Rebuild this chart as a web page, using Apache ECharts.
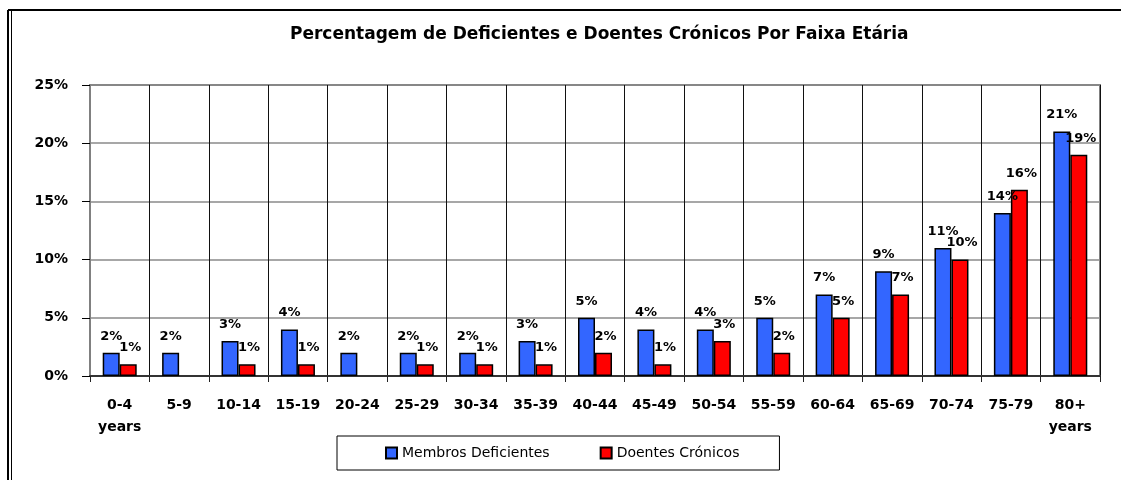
<!DOCTYPE html>
<html>
<head>
<meta charset="utf-8">
<script src="https://cdn.jsdelivr.net/npm/echarts@6/dist/echarts.min.js"></script>
<style>
html, body { margin: 0; padding: 0; background: #fff; }
#chart { width: 1121px; height: 480px; }
</style>
</head>
<body>
<div id="chart"></div>
<script>
var categories = ['0-4\nyears', '5-9', '10-14', '15-19', '20-24', '25-29', '30-34', '35-39', '40-44',
	'45-49', '50-54', '55-59', '60-64', '65-69', '70-74', '75-79', '80+\nyears']
var deficientes = [2, 2, 3, 4, 2, 2, 2, 3, 5, 4, 4, 5, 7, 9, 11, 14, 21]
var cronicos = [1, null, 1, 1, null, 1, 1, 1, 2, 1, 3, 2, 5, 7, 10, 16, 19]
var yTicks = [0, 5, 10, 15, 20, 25]

var fontName = 'DejaVu Sans'
var myEchart = echarts.init(document.getElementById('chart'))

function barLabel(dx) {
	return {
		show: true,
		position: 'top',
		distance: 10,
		offset: [dx, 0],
		color: '#000',
		fontFamily: fontName,
		fontSize: 13,
		fontWeight: 'bold',
		formatter: function (p) {
			return p.value + '%'
		}
	}
}

var option = {
	animation: false,
	backgroundColor: '#fff',
	title: {
		text: 'Percentagem de Deficientes e Doentes Crónicos Por Faixa Etária',
		left: 285,
		top: 21,
		textStyle: {
			color: '#000',
			fontFamily: fontName,
			fontSize: 17,
			fontWeight: 'bold'
		}
	},
	legend: {
		left: 337,
		top: 436,
		padding: [10, 40, 10, 48],
		borderColor: '#000',
		borderWidth: 1,
		itemGap: 50,
		itemWidth: 11,
		itemHeight: 11,
		icon: 'rect',
		textStyle: {
			color: '#000',
			fontFamily: fontName,
			fontSize: 14
		},
		data: ['Membros Deficientes', 'Doentes Crónicos']
	},
	grid: {
		left: 90,
		right: 21,
		top: 85,
		bottom: 104,
		show: true,
		borderColor: '#808080',
		borderWidth: 2
	},
	xAxis: {
		type: 'category',
		data: categories,
		axisLine: {
			lineStyle: { color: '#333', width: 2 }
		},
		axisTick: {
			show: true,
			length: 6,
			lineStyle: { color: '#222', width: 1 }
		},
		splitLine: {
			show: true,
			lineStyle: { color: '#111', width: 1 }
		},
		axisLabel: {
			margin: 18,
			color: '#000',
			fontFamily: fontName,
			fontSize: 14,
			fontWeight: 'bold',
			lineHeight: 22,
			interval: 0
		}
	},
	yAxis: {
		type: 'value',
		min: yTicks[0],
		max: yTicks[yTicks.length - 1],
		interval: 5,
		axisLine: {
			show: true,
			lineStyle: { color: '#808080', width: 2 }
		},
		axisTick: {
			show: true,
			length: 8,
			lineStyle: { color: '#000' }
		},
		splitLine: {
			lineStyle: { color: '#8a8a8a', width: 1.5 }
		},
		axisLabel: {
			margin: 22,
			color: '#000',
			fontFamily: fontName,
			fontSize: 14,
			fontWeight: 'bold',
			formatter: '{value}%'
		}
	},
	series: [{
		name: 'Membros Deficientes',
		type: 'bar',
		data: deficientes,
		barWidth: 17,
		barGap: '0%',
		itemStyle: {
			color: '#3366FF',
			borderColor: '#000',
			borderWidth: 1.5
		},
		label: barLabel(0)
	}, {
		name: 'Doentes Crónicos',
		type: 'bar',
		data: cronicos,
		barWidth: 17,
		barGap: '0%',
		itemStyle: {
			color: '#FF0000',
			borderColor: '#000',
			borderWidth: 1.5
		},
		label: barLabel(2)
	}],
	graphic: [{
		type: 'line',
		shape: { x1: 8, y1: 10, x2: 1121, y2: 10 },
		style: { stroke: '#000', lineWidth: 2 }
	}, {
		type: 'line',
		shape: { x1: 8, y1: 10, x2: 8, y2: 480 },
		style: { stroke: '#000', lineWidth: 2 }
	}, {
		type: 'line',
		shape: { x1: 11.5, y1: 10, x2: 11.5, y2: 480 },
		style: { stroke: '#000', lineWidth: 1 }
	}]
}
myEchart.setOption(option)
</script>
</body>
</html>
